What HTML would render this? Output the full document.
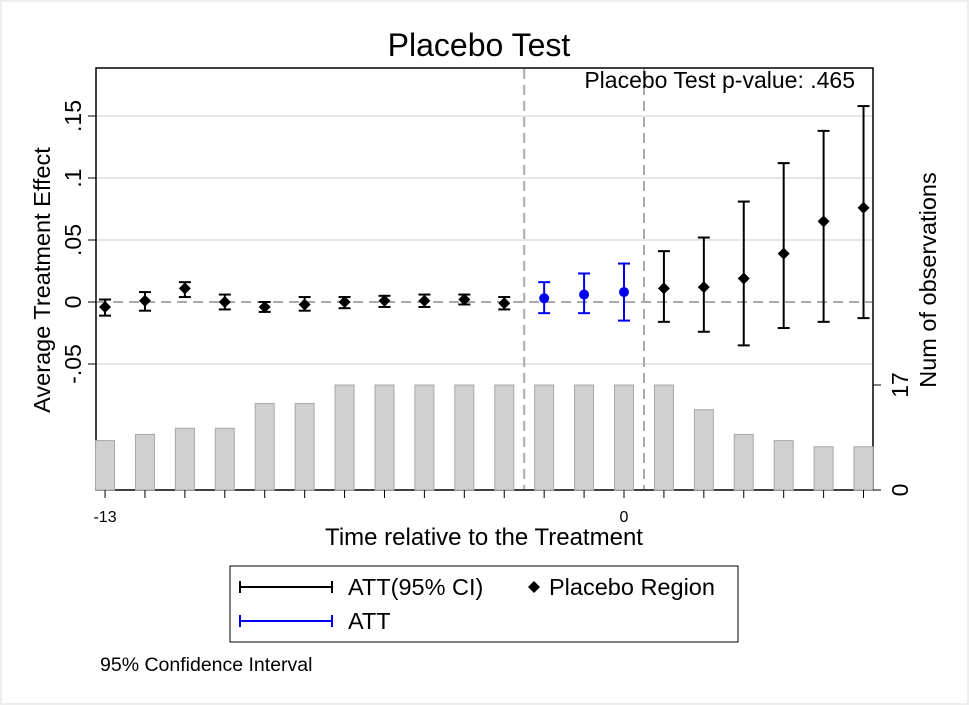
<!DOCTYPE html>
<html><head><meta charset="utf-8"><style>
html,body{margin:0;padding:0;background:#fff}
svg{display:block;font-family:"Liberation Sans",Arial,sans-serif}
</style></head><body>
<svg id="chart" width="969" height="705" viewBox="0 0 969 705">
<rect x="1" y="1" width="967" height="703" fill="#fff" stroke="#eeeeee" stroke-width="2"/>
<text x="479" y="56" font-size="32" text-anchor="middle">Placebo Test</text>
<rect x="96" y="68" width="777" height="422" fill="#fff" stroke="#000" stroke-width="1.5"/>
<g id="grid"></g>
<g id="bars"></g>
<g id="refs"></g>
<g id="marks"></g>
<g id="axes"></g>
<text x="855" y="88" font-size="23" text-anchor="end">Placebo Test p-value: .465</text>
<text transform="translate(50,280) rotate(-90)" font-size="23.5" text-anchor="middle">Average Treatment Effect</text>
<text transform="translate(936,280) rotate(-90)" font-size="23.5" text-anchor="middle">Num of observations</text>
<text x="484" y="545" font-size="24" text-anchor="middle">Time relative to the Treatment</text>
<g>
<rect x="230" y="566" width="508" height="76" fill="#fff" stroke="#000" stroke-width="1"/>
<g>
<line x1="240" y1="587" x2="332" y2="587" stroke="#000" stroke-width="2"/>
<line x1="240" y1="581" x2="240" y2="593" stroke="#000" stroke-width="2"/>
<line x1="332" y1="581" x2="332" y2="593" stroke="#000" stroke-width="2"/>
<text x="348" y="595" font-size="23.5">ATT(95% CI)</text></g>
<g>
<path d="M534 581 L540 587 L534 593 L528 587 Z" fill="#000"/>
<text x="549" y="595" font-size="23.5">Placebo Region</text></g>
<g>
<line x1="240" y1="621" x2="332" y2="621" stroke="#0000ee" stroke-width="2"/>
<line x1="240" y1="615" x2="240" y2="627" stroke="#0000ee" stroke-width="2"/>
<line x1="332" y1="615" x2="332" y2="627" stroke="#0000ee" stroke-width="2"/>
<text x="348" y="629" font-size="23.5">ATT</text></g>
</g>
<text x="100" y="671" font-size="19.5">95% Confidence Interval</text>
</svg>
<script>
const periods=[-13,-12,-11,-10,-9,-8,-7,-6,-5,-4,-3,-2,-1,0,1,2,3,4,5,6];
const estimates=[-0.004,0.001,0.011,0.0,-0.004,-0.002,0.0,0.001,0.001,0.002,-0.001,0.003,0.006,0.008,0.011,0.012,0.019,0.039,0.065,0.076];
const ciUpper=[0.002,0.008,0.016,0.006,0.0,0.004,0.004,0.005,0.006,0.006,0.004,0.016,0.023,0.031,0.041,0.052,0.081,0.112,0.138,0.158];
const ciLower=[-0.011,-0.007,0.004,-0.006,-0.008,-0.007,-0.005,-0.004,-0.004,-0.002,-0.006,-0.009,-0.009,-0.015,-0.016,-0.024,-0.035,-0.021,-0.016,-0.013];
const obsCounts=[8,9,10,10,14,14,17,17,17,17,17,17,17,17,17,13,9,8,7,7];
const attPeriods=[-2,-1,0];
const yTicks=[-0.05,0,0.05,0.1,0.15];
const yTickLabels=["-.05","0",".05",".1",".15"];
const NS="http://www.w3.org/2000/svg";
const X=t=>624+(t-0)*39.92;
const Y=v=>302-v*1240;
const B=n=>490-n*(105/17);
function mk(p,tag,a){const e=document.createElementNS(NS,tag);for(const k in a)e.setAttribute(k,a[k]);document.getElementById(p).appendChild(e);return e;}
yTicks.forEach((v,i)=>{
 if(v!==0){const g=mk('grid','line',{x1:97,x2:872,y1:Y(v),y2:Y(v),stroke:'#e6e6e6','stroke-width':2});
 
 }
 const t=mk('axes','line',{x1:88,x2:96,y1:Y(v),y2:Y(v),stroke:'#000'});
 
 
 const l=mk('axes','text',{transform:`translate(81,${Y(v)}) rotate(-90)`,'font-size':23,'text-anchor':'middle'});
 l.textContent=yTickLabels[i];
 
 
});
periods.forEach((p,i)=>{
 const r=mk('bars','rect',{x:X(p)-9.5,y:B(obsCounts[i]),width:19,height:490-B(obsCounts[i]),fill:'#d0d0d0',stroke:'#a8a8a8','stroke-width':1});
 
 
 const t=mk('axes','line',{x1:X(p),x2:X(p),y1:490,y2:498,stroke:'#000'});
 
 
});
[[-13,"-13"],[0,"0"]].forEach(([p,s])=>{const l=mk('axes','text',{x:X(p),y:522,'font-size':16,'text-anchor':'middle'});l.textContent=s;
 
 });
[[0,"0"],[17,"17"]].forEach(([n,s])=>{
 const t=mk('axes','line',{x1:873,x2:881,y1:B(n),y2:B(n),stroke:'#000'});
 
 
 const l=mk('axes','text',{transform:`translate(908,${B(n)}) rotate(-90)`,'font-size':23,'text-anchor':'middle'});l.textContent=s;
 
 });
const z=mk('refs','line',{x1:97,x2:872,y1:Y(0),y2:Y(0),stroke:'#aaaaaa','stroke-width':2,'stroke-dasharray':'10,6'});


[X(-2.5),X(0.5)].forEach(x=>{const v=mk('refs','line',{x1:x,x2:x,y1:69,y2:489,stroke:'#aaaaaa','stroke-width':2,'stroke-dasharray':'10,6'});
 
 });
periods.forEach((p,i)=>{
 const att=attPeriods.includes(p);const c=att?'#0000ee':'#000';const x=X(p);
 const g=mk('marks','g',{});
 
 
 const a=(tag,o)=>{const e=document.createElementNS(NS,tag);for(const k in o)e.setAttribute(k,o[k]);g.appendChild(e);};
 a('line',{x1:x,x2:x,y1:Y(ciUpper[i]),y2:Y(ciLower[i]),stroke:c,'stroke-width':2});
 a('line',{x1:x-6,x2:x+6,y1:Y(ciUpper[i]),y2:Y(ciUpper[i]),stroke:c,'stroke-width':2});
 a('line',{x1:x-6,x2:x+6,y1:Y(ciLower[i]),y2:Y(ciLower[i]),stroke:c,'stroke-width':2});
 const y=Y(estimates[i]);
 if(att)a('circle',{cx:x,cy:y,r:5,fill:c});
 else a('path',{d:`M${x} ${y-6}L${x+6} ${y}L${x} ${y+6}L${x-6} ${y}Z`,fill:c});
});
</script>
</body></html>
